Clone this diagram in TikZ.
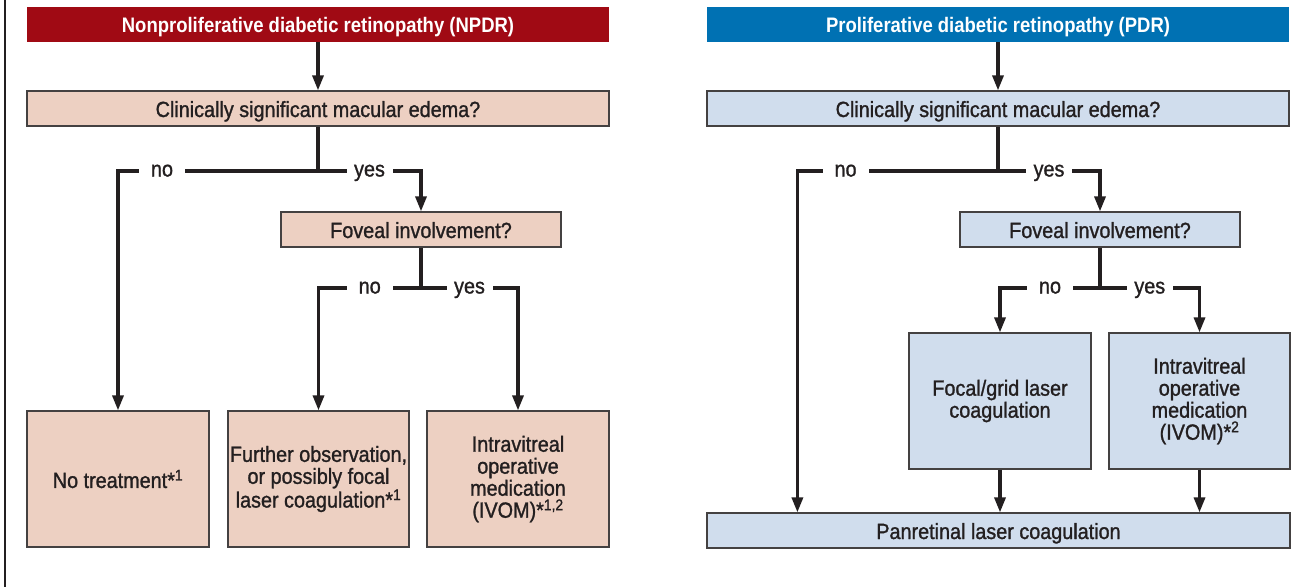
\documentclass[tikz,border=0pt]{standalone}
\usepackage{fontspec}
\setmainfont[FakeStretch=0.9,FakeBold=1.2]{Liberation Sans}
\newfontfamily\titlefont[FakeStretch=0.88]{Liberation Sans}
\usetikzlibrary{arrows.meta}
\definecolor{npdrred}{HTML}{A00A14}
\definecolor{pdrblue}{HTML}{0071B3}
\definecolor{npdrfill}{HTML}{EDD0C2}
\definecolor{pdrfill}{HTML}{D0DDED}
\definecolor{inkline}{HTML}{231F20}

\begin{document}
\begin{tikzpicture}[x=1pt,y=-1pt,
		every node/.style={font=\fontsize{22}{22}\selectfont,text=inkline},
		titlebar/.style={minimum width=582pt,minimum height=35pt,inner sep=0pt,text=white,text height=15pt,text depth=0pt,font=\fontsize{21}{22}\titlefont\bfseries},
		qbox/.style={draw=inkline!85,line width=1.2pt,minimum height=35pt,inner sep=0pt,text height=17pt,text depth=0pt},
		bigbox/.style={draw=inkline!85,line width=1.2pt,minimum width=181pt,minimum height=136pt,inner sep=2pt,align=center},
		conn/.style={draw=inkline,line width=3.2pt},
		arr/.style={conn,-{Triangle[length=15pt,width=11pt]}},
		lbl/.style={fill=white,minimum width=46pt,inner sep=0pt,text height=11pt,text depth=0pt}]
	\useasboundingbox (0,0) rectangle (1311,587);
	\draw[inkline,line width=2.5pt] (5,0) -- (5,587);

	% NPDR
	\node[titlebar,fill=npdrred] (ntitle) at (318,24.5) {Nonproliferative diabetic retinopathy (NPDR)};
	\node[qbox,fill=npdrfill,minimum width=582pt] (nedema) at (318,108.5) {Clinically significant macular edema?};
	\node[qbox,fill=npdrfill,minimum width=280pt] (nfovea) at (421,229.5) {Foveal involvement?};
	\node[bigbox,fill=npdrfill,minimum width=182pt] (nnone) at (118,479) {No treatment*\textsuperscript{1}};
	\node[bigbox,fill=npdrfill] (nwatch) at (318.5,479) {Further observation,\\ or possibly focal\\ laser coagulation*\textsuperscript{1}};
	\node[bigbox,fill=npdrfill,minimum width=182pt] (nivom) at (518,479) {Intravitreal\\ operative\\ medication\\ (IVOM)*\textsuperscript{1,2}};
	\coordinate (nsplit) at (nedema.south |- 0,171);
	\coordinate (nfsplit) at (nfovea.south |- 0,288);

	\draw[arr] (ntitle) -- (nedema);
	\draw[conn] (nedema.south) -- (nsplit);
	\draw[arr] (nsplit) -| node[lbl,pos=.39] {no} (nnone.north);
	\draw[arr] (nsplit) -| node[lbl,pos=.25] {yes} (nfovea.north);
	\draw[conn] (nfovea.south) -- (nfsplit);
	\draw[arr] (nfsplit) -| node[lbl,pos=.25] {no} (nwatch.north);
	\draw[arr] (nfsplit) -| node[lbl,pos=.25] {yes} (nivom.north);

	% PDR
	\node[titlebar,fill=pdrblue] (ptitle) at (998,24.5) {Proliferative diabetic retinopathy (PDR)};
	\node[qbox,fill=pdrfill,minimum width=582pt] (pedema) at (998,108.5) {Clinically significant macular edema?};
	\node[qbox,fill=pdrfill,minimum width=280pt] (pfovea) at (1100,229.5) {Foveal involvement?};
	\node[bigbox,fill=pdrfill,minimum width=182pt] (pfocal) at (1000,401) {Focal/grid laser\\ coagulation};
	\node[bigbox,fill=pdrfill] (pivom) at (1199.5,401) {Intravitreal\\ operative\\ medication\\ (IVOM)*\textsuperscript{2}};
	\node[qbox,fill=pdrfill,minimum width=583pt] (ppan) at (998.5,530.5) {Panretinal laser coagulation};
	\coordinate (psplit) at (pedema.south |- 0,171);
	\coordinate (pfsplit) at (pfovea.south |- 0,288);

	\draw[arr] (ptitle) -- (pedema);
	\draw[conn] (pedema.south) -- (psplit);
	\draw[arr] (psplit) -| node[lbl,pos=.38] {no} ([xshift=91pt]ppan.north west);
	\draw[arr] (psplit) -| node[lbl,pos=.25] {yes} (pfovea.north);
	\draw[conn] (pfovea.south) -- (pfsplit);
	\draw[arr] (pfsplit) -| node[lbl,pos=.25] {no} (pfocal.north);
	\draw[arr] (pfsplit) -| node[lbl,pos=.25] {yes} (pivom.north);
	\draw[arr] (pfocal.south) -- (pfocal.south |- ppan.north);
	\draw[arr] (pivom.south) -- (pivom.south |- ppan.north);
\end{tikzpicture}
\end{document}
